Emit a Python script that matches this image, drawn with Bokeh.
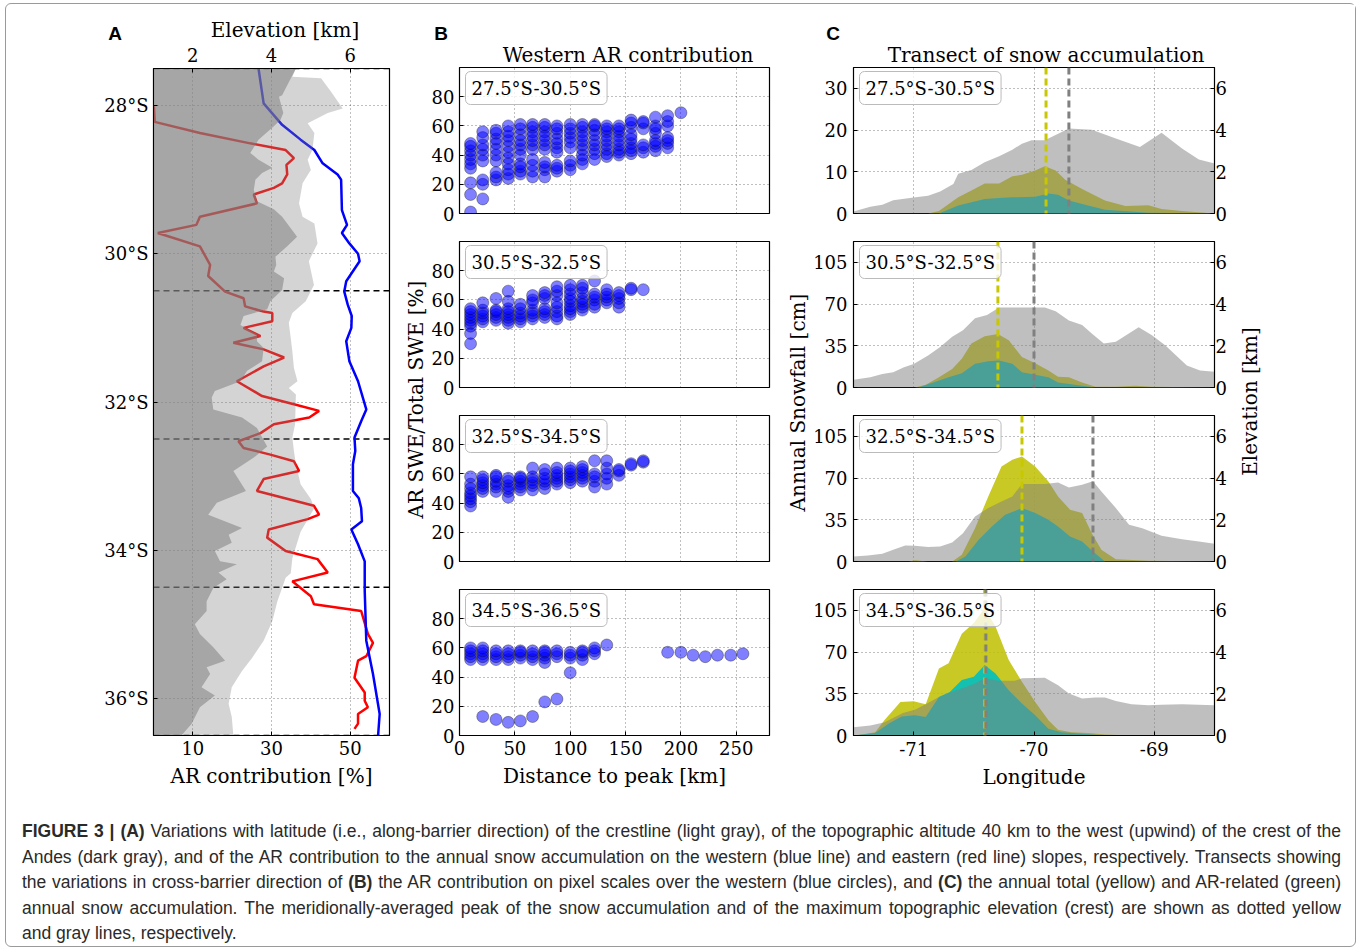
from math import pi
from bokeh.plotting import figure
from bokeh.layouts import row, column
from bokeh.models import Range1d, LinearAxis, FixedTicker, Label, Span, Div
from bokeh.embed import file_html
from bokeh.resources import INLINE

SERIF = "DejaVu Serif"
SANS = "Liberation Sans"

# ---------------- Panel A data ----------------
lat_ticks = [28, 30, 32, 34, 36]
ar_ticks = [10, 30, 50]
elev_ticks = [2, 4, 6]
band_edges = [27.5, 30.5, 32.5, 34.5, 36.5]

blue_lat = [27.50, 27.97, 28.26, 28.46, 28.60, 28.78, 28.93, 29.00, 29.41, 29.61,
            29.72, 29.86, 30.00, 30.10, 30.37, 30.51, 30.69, 30.84, 31.00, 31.18,
            31.45, 31.72, 32.10, 32.26, 32.48, 32.66, 32.84, 33.20, 33.30, 33.43,
            33.61, 33.72, 33.92, 34.15, 34.55, 35.22, 35.67, 36.21, 36.50]
blue_ar = [26.7, 28.0, 32.7, 37.4, 40.9, 43.0, 46.8, 47.7, 47.9, 49.2,
           47.9, 49.8, 52.0, 52.4, 49.0, 48.5, 49.4, 50.4, 50.3, 49.0,
           49.8, 52.0, 54.1, 52.8, 51.1, 51.3, 50.7, 50.7, 52.2, 52.8,
           53.0, 50.3, 52.0, 53.7, 53.7, 54.1, 55.8, 57.5, 57.1]

red_lat = [28.01, 28.22, 28.37, 28.51, 28.60, 28.71, 28.80, 28.93, 29.05, 29.11,
           29.20, 29.32, 29.50, 29.61, 29.72, 29.90, 30.15, 30.30, 30.51, 30.60,
           30.71, 30.78, 30.80, 30.91, 31.00, 31.11, 31.20, 31.29, 31.40, 31.52,
           31.72, 31.92, 32.03, 32.12, 32.21, 32.30, 32.42, 32.53, 32.62, 32.71,
           32.80, 32.93, 33.04, 33.20, 33.40, 33.52, 33.58, 33.72, 33.83, 34.01,
           34.12, 34.30, 34.42, 34.62, 34.73, 34.82, 35.13, 35.25, 35.43, 35.49,
           35.72, 35.92, 36.03, 36.12, 36.21, 36.34, 36.41]
red_ar = [0.1, 0.3, 11.8, 24.6, 33.6, 35.7, 33.8, 34.0, 32.7, 30.6,
          25.5, 26.3, 11.8, 10.9, 1.1, 11.8, 14.4, 13.9, 18.2, 22.9,
          23.3, 28.0, 30.2, 30.2, 22.9, 27.2, 20.3, 28.0, 33.2, 28.0,
          21.2, 27.6, 35.7, 42.1, 39.6, 30.6, 27.2, 21.6, 22.9, 29.7,
          35.7, 37.0, 28.0, 26.3, 40.8, 42.1, 39.2, 29.3, 28.9, 33.6,
          41.7, 44.3, 35.3, 40.0, 40.8, 52.8, 54.5, 55.8, 54.1, 52.0,
          51.1, 53.7, 53.7, 54.5, 52.0, 52.0, 51.1]

crest_lat = [27.50, 27.61, 27.63, 27.81, 28.04, 28.10, 28.24, 28.37, 28.60, 28.73,
             28.87, 29.05, 29.32, 29.50, 29.59, 29.86, 30.10, 30.42, 30.64, 30.80,
             30.93, 31.14, 31.32, 31.54, 31.72, 31.81, 31.90, 32.30, 32.48, 32.66,
             32.84, 33.11, 33.31, 33.43, 33.75, 34.11, 34.31, 34.37, 34.69, 34.96,
             35.22, 35.45, 35.63, 35.85, 36.07, 36.25, 36.50]
crest_km = [4.62, 4.53, 5.26, 5.51, 5.81, 5.43, 4.92, 5.09, 5.04, 4.92,
            5.00, 4.79, 4.70, 4.79, 5.09, 5.17, 4.95, 5.08, 4.87, 4.53,
            4.44, 4.49, 4.53, 4.57, 4.66, 4.44, 4.62, 4.60, 4.53, 4.57,
            4.62, 4.74, 5.00, 5.09, 4.74, 4.53, 4.49, 4.36, 4.15, 4.02,
            3.80, 3.51, 3.25, 2.99, 2.91, 2.99, 3.03]

west_lat = [27.50, 27.86, 27.88, 28.10, 28.19, 28.28, 28.46, 28.64, 28.73, 28.84,
            28.91, 29.00, 29.14, 29.29, 29.40, 29.50, 29.77, 29.90, 30.04, 30.15,
            30.24, 30.33, 30.49, 30.64, 30.75, 30.84, 30.96, 31.09, 31.18, 31.27,
            31.45, 31.58, 31.72, 31.85, 31.94, 32.10, 32.21, 32.35, 32.60, 32.75,
            32.93, 33.20, 33.36, 33.52, 33.70, 33.79, 33.90, 34.01, 34.15, 34.19,
            34.30, 34.39, 34.51, 34.69, 34.82, 35.00, 35.13, 35.31, 35.49, 35.58,
            35.67, 35.85, 35.96, 36.12, 36.34, 36.50]
west_km = [4.62, 4.27, 4.19, 4.30, 4.23, 4.06, 3.67, 3.46, 3.67, 4.02,
           3.76, 3.59, 3.55, 3.63, 4.06, 4.27, 4.65, 4.40, 4.10, 4.12,
           4.06, 4.32, 4.27, 3.97, 3.89, 3.29, 3.21, 3.63, 3.63, 3.80,
           3.76, 3.38, 3.21, 2.56, 2.48, 2.52, 3.25, 3.63, 3.89, 3.55,
           3.03, 3.35, 2.61, 2.39, 3.25, 2.91, 2.99, 2.56, 2.69, 3.12,
           2.65, 2.86, 2.52, 2.35, 2.35, 2.05, 2.18, 2.52, 2.82, 2.35,
           2.44, 2.22, 2.56, 2.18, 1.97, 1.71]

# ---------------- Panel B data ----------------
dist_km = [10, 21, 33, 44, 55, 66, 77, 88, 100, 111, 122, 133, 144, 155, 166, 177,
           188, 200, 211, 222, 233, 245, 256]
dist_ticks = [0, 50, 100, 150, 200, 250]
swe_ticks = [0, 20, 40, 60, 80]

b1_cols = [[1, 13, 21, 31, 34, 37, 40, 43, 46, 48],
           [10, 20, 23, 36, 40, 44, 47, 52, 56],
           [23, 25, 28, 36, 40, 44, 48, 51, 55, 57],
           [24, 27, 30, 34, 38, 42, 46, 50, 53, 56, 60],
           [27, 29, 32, 34, 40, 44, 47, 50, 54, 58, 61],
           [25, 29, 33, 37, 44, 47, 50, 53, 56, 59, 61],
           [25, 30, 32, 35, 44, 47, 50, 53, 56, 59, 61],
           [29, 31, 33, 42, 45, 48, 51, 55, 58, 60],
           [30, 33, 36, 45, 49, 52, 55, 58, 61],
           [34, 37, 40, 44, 47, 50, 53, 56, 59, 61],
           [37, 41, 44, 47, 50, 54, 57, 60, 61],
           [39, 41, 44, 47, 50, 53, 56, 58, 60],
           [40, 42, 44, 47, 50, 53, 56, 58, 60],
           [41, 43, 45, 48, 51, 54, 59, 62, 64],
           [42, 45, 47, 58, 62, 63],
           [43, 46, 48, 50, 55, 58, 60, 66],
           [45, 48, 50, 52, 60, 63, 67],
           [69]]
b2_cols = [[30, 37, 42, 44, 46, 48, 50, 52, 54],
           [45, 47, 49, 51, 53, 58],
           [46, 48, 50, 52, 53, 61],
           [44, 46, 48, 50, 52, 54, 59, 66],
           [45, 47, 49, 51, 54, 57],
           [47, 49, 51, 53, 58, 60, 63],
           [48, 50, 52, 54, 61, 63, 65],
           [47, 49, 52, 55, 58, 63, 66, 69],
           [50, 52, 54, 56, 59, 61, 64, 67, 70],
           [53, 55, 57, 59, 61, 65, 68, 70],
           [55, 57, 60, 62, 64, 73],
           [58, 60, 62, 64, 67],
           [55, 58, 61, 63, 65],
           [67, 68],
           [67]]
b3_cols = [[38, 41, 43, 45, 47, 50, 53, 58],
           [48, 50, 52, 54, 56, 58],
           [48, 51, 53, 55, 58, 59],
           [44, 48, 50, 52, 55, 57],
           [49, 51, 53, 55, 57, 58],
           [49, 52, 54, 56, 58, 64],
           [50, 53, 55, 57, 60, 63],
           [53, 55, 57, 59, 61, 64],
           [54, 56, 58, 60, 62, 64],
           [55, 57, 59, 61, 63, 65],
           [51, 55, 58, 60, 69],
           [53, 57, 60, 64, 69],
           [59, 62, 63],
           [66, 67],
           [68, 69]]
b4_cols = [[52, 54, 56, 58, 60],
           [13, 52, 54, 56, 58, 60],
           [11, 52, 54, 56, 58],
           [9, 52, 54, 56, 58],
           [10, 53, 55, 57, 58],
           [13, 52, 54, 56, 58],
           [23, 50, 53, 55, 57, 58],
           [25, 54, 56, 58],
           [43, 53, 55, 57],
           [52, 55, 57, 58],
           [56, 58, 60],
           [62],
           [], [], [], [],
           [57], [57], [55], [54], [55], [55], [56]]

# ---------------- Panel C data ----------------
lon_ticks = [-71, -70, -69]
snow_ticks_c1 = [0, 10, 20, 30]
snow_ticks = [0, 35, 70, 105]
elev_ticks_c = [0, 2, 4, 6]

c1_elev_lon = [-71.5, -71.36, -71.26, -71.17, -71.00, -70.88, -70.78, -70.67, -70.63, -70.52,
               -70.41, -70.29, -70.18, -70.10, -70.02, -69.91, -69.71, -69.52, -69.32, -69.12,
               -68.94, -68.77, -68.63, -68.5]
c1_elev = [0.10, 0.32, 0.42, 0.64, 0.77, 0.85, 1.06, 1.42, 1.90, 2.09,
           2.46, 2.74, 3.06, 3.35, 3.51, 3.51, 4.07, 4.02, 3.59, 3.19,
           3.87, 3.12, 2.59, 2.40]
c1_tot_lon = [-71.5, -70.88, -70.79, -70.63, -70.52, -70.41, -70.29, -70.18, -70.10, -69.99,
              -69.91, -69.82, -69.74, -69.60, -69.41, -69.24, -69.05, -68.94, -68.77, -68.5]
c1_tot = [0, 0, 0.6, 3.9, 5.5, 7.2, 7.2, 8.9, 9.3, 10.3,
          11.3, 10.3, 8.1, 5.9, 3.1, 1.8, 2.0, 1.1, 0.6, 0]
c1_ar_lon = [-71.5, -70.79, -70.63, -70.52, -70.41, -70.29, -70.18, -69.99, -69.88, -69.80,
             -69.71, -69.55, -69.41, -69.19, -69.05, -68.5]
c1_ar = [0, 0, 1.9, 2.7, 3.5, 3.7, 3.9, 4.0, 4.8, 4.5,
         3.1, 1.9, 0.9, 0.5, 0.2, 0]

c2_elev_lon = [-71.5, -71.36, -71.26, -71.17, -71.08, -71.00, -70.88, -70.78, -70.68, -70.59,
               -70.49, -70.39, -70.29, -69.91, -69.82, -69.71, -69.60, -69.52, -69.42, -69.32,
               -69.13, -69.02, -68.91, -68.73, -68.62, -68.5]
c2_elev = [0.37, 0.49, 0.65, 0.73, 0.97, 1.13, 1.54, 1.94, 2.43, 2.75,
           3.32, 3.48, 3.84, 3.84, 3.65, 3.21, 3.00, 2.59, 2.11, 2.19,
           2.89, 2.51, 2.03, 1.05, 0.81, 0.76]
c2_tot_lon = [-71.5, -70.99, -70.90, -70.79, -70.68, -70.60, -70.52, -70.41, -70.30, -70.21,
              -70.10, -69.99, -69.88, -69.80, -69.71, -69.60, -69.49, -69.32, -69.16, -69.02, -68.5]
c2_tot = [0, 0, 2.3, 8.5, 15.6, 24.1, 36.9, 43.1, 44.8, 39.7,
          25.5, 20.4, 14.2, 9.1, 8.5, 4.3, 0.6, 0.6, 1.4, 0.6, 0]
c2_ar_lon = [-71.5, -70.96, -70.88, -70.71, -70.60, -70.49, -70.38, -70.29, -70.18, -70.10,
             -69.99, -69.88, -69.80, -69.66, -69.49, -68.5]
c2_ar = [0, 0, 2.8, 8.5, 11.9, 19.9, 22.1, 22.7, 19.9, 12.8,
         10.8, 8.5, 4.3, 2.3, 0, 0]

c3_elev_lon = [-71.5, -71.38, -71.26, -71.17, -71.07, -70.99, -70.88, -70.78, -70.68, -70.59,
               -70.49, -70.38, -70.27, -70.18, -70.10, -69.91, -69.80, -69.71, -69.60, -69.51,
               -69.44, -69.32, -69.21, -69.10, -68.94, -68.77, -68.63, -68.5]
c3_elev = [0.24, 0.29, 0.37, 0.56, 0.77, 0.75, 0.69, 0.72, 0.91, 1.36,
           2.16, 2.56, 2.88, 3.12, 3.72, 3.72, 3.79, 3.55, 3.68, 3.85,
           3.36, 2.56, 1.76, 1.60, 1.23, 1.07, 0.96, 0.85]
c3_tot_lon = [-71.5, -71.04, -70.99, -70.88, -70.68, -70.60, -70.49, -70.38, -70.27, -70.18,
              -70.10, -69.99, -69.88, -69.80, -69.70, -69.60, -69.52, -69.44, -69.32, -69.05, -68.5]
c3_tot = [0, 0, 1.1, 0, 0, 5.6, 28.0, 54.5, 79.7, 85.3,
          88.1, 79.7, 67.1, 54.5, 43.4, 40.6, 23.8, 9.8, 1.9, 0.6, 0]
c3_ar_lon = [-71.5, -70.65, -70.57, -70.46, -70.35, -70.24, -70.10, -69.99, -69.88, -69.80,
             -69.70, -69.60, -69.51, -69.41, -68.5]
c3_ar = [0, 0, 4.2, 18.2, 29.4, 39.2, 44.8, 40.6, 35.0, 29.4,
         21.0, 16.8, 8.4, 0, 0]

c4_elev_lon = [-71.5, -71.36, -71.24, -71.09, -70.99, -70.90, -70.79, -70.71, -70.60, -70.49,
               -70.41, -70.30, -70.16, -70.10, -69.91, -69.80, -69.71, -69.60, -69.49, -69.41,
               -69.32, -69.19, -69.05, -68.94, -68.77, -68.5]
c4_elev = [0.40, 0.48, 0.64, 1.08, 1.24, 1.50, 1.85, 2.04, 2.25, 2.49,
           2.74, 2.62, 2.62, 2.74, 2.77, 2.41, 2.01, 1.77, 1.82, 1.82,
           1.66, 1.50, 1.45, 1.48, 1.50, 1.45]
c4_tot_lon = [-71.5, -71.43, -71.32, -71.24, -71.11, -71.00, -70.90, -70.79, -70.71, -70.60,
              -70.50, -70.41, -70.32, -70.21, -70.10, -69.99, -69.88, -69.80, -69.69, -69.55,
              -69.41, -69.19, -68.5]
c4_tot = [0, 0.8, 2.8, 13.2, 28.2, 28.7, 26.2, 56.3, 60.6, 85.3,
          94.3, 107.0, 91.5, 63.4, 45.0, 28.2, 12.7, 4.8, 2.8, 2.0,
          0.8, 0, 0]
c4_ar_lon = [-71.5, -71.32, -71.21, -71.10, -70.99, -70.90, -70.79, -70.70, -70.60, -70.50,
             -70.41, -70.32, -70.21, -70.10, -69.99, -69.88, -69.77, -69.60, -69.41, -68.5]
c4_ar = [0, 2.0, 9.9, 16.0, 16.9, 15.5, 32.4, 36.6, 46.5, 49.3,
         59.1, 52.1, 38.0, 26.8, 16.9, 5.6, 2.8, 1.4, 0, 0]

snow_peak_lon = [-69.90, -70.30, -70.10, -70.41]
crest_peak_lon = [-69.71, -70.00, -69.51, -70.40]
snow_max = [35, 122.5, 122.5, 122.5]

# ---------------- helpers ----------------
def style_axis(ax, standoff=5):
    ax.major_label_text_font = SERIF
    ax.major_label_text_font_size = "18px"
    ax.major_label_text_color = "black"
    ax.major_label_standoff = standoff
    ax.axis_label_text_font = SERIF
    ax.axis_label_text_font_size = "20px"
    ax.axis_label_text_font_style = "normal"
    ax.axis_label_text_color = "black"
    ax.axis_label_standoff = 6
    ax.major_tick_in = 4
    ax.major_tick_out = 0
    ax.major_tick_line_color = "black"
    ax.minor_tick_line_color = None
    ax.axis_line_color = "black"


def style_grid(p):
    for g in p.grid:
        g.grid_line_color = "black"
        g.grid_line_alpha = 0.5
        g.grid_line_dash = "1 3"
        g.grid_line_width = 1


def make_fig(xr, yr, fw, fh, mbl, mbr, mbt, mbb):
    p = figure(x_range=xr, y_range=yr, frame_width=fw, frame_height=fh,
               min_border_left=mbl, min_border_right=mbr,
               min_border_top=mbt, min_border_bottom=mbb,
               output_backend="svg", toolbar_location=None)
    p.outline_line_color = "black"
    p.outline_line_width = 1.2
    p.background_fill_color = "white"
    p.border_fill_color = "white"
    return p


def band_label(p, xr, yr, fw, fh, text):
    x = xr.start + 6 / fw * (xr.end - xr.start)
    y = yr.end - 4 / fh * (yr.end - yr.start)
    p.add_layout(Label(x=x, y=y, text=text, text_font=SERIF, text_font_size="18px",
                       text_color="black", text_align="left", text_baseline="top",
                       background_fill_color="white", background_fill_alpha=0.8,
                       border_line_color="#bbbbbb", border_line_width=1,
                       border_radius=5, padding=6))


# page-y geometry of the plot row (content origin at y=4)
ROW_TOP, FRAME_TOP, FRAME_BOT, ROW_BOT = 4, 68, 735, 806


def strip(w, text, x, y):
    """narrow blank canvas whose frame spans the same rows as panel A; y in page px"""
    p = figure(width=w, frame_height=FRAME_BOT - FRAME_TOP,
               x_range=Range1d(0, w), y_range=Range1d(FRAME_BOT, FRAME_TOP),
               min_border_left=0, min_border_right=0,
               min_border_top=FRAME_TOP - ROW_TOP, min_border_bottom=ROW_BOT - FRAME_BOT,
               x_axis_location=None, y_axis_location=None,
               output_backend="svg", toolbar_location=None)
    p.outline_line_color = None
    p.xgrid.visible = False
    p.ygrid.visible = False
    p.add_layout(Label(x=x, y=y, text=text, angle=pi / 2, text_font=SERIF,
                       text_font_size="20px", text_color="black",
                       text_align="center", text_baseline="middle"))
    return p


def header(w, h, items):
    spans = "".join(
        f"<span style=\"position:absolute;left:{x}px;top:{y}px;transform:translate(-50%,-50%);"
        f"white-space:nowrap;line-height:normal;font-family:'{font}';font-size:{size};"
        f"font-weight:{weight};color:#000;\">{text}</span>"
        for (x, y, text, font, size, weight) in items)
    html = f"<div style=\"position:relative;width:{w}px;height:{h}px;\">{spans}</div>"
    return Div(text=html, width=w, height=h, margin=0)


def band_text(i):
    return f"{band_edges[i]}°S-{band_edges[i + 1]}°S"

# ---------------- Panel A ----------------
HEAD_A, HEAD_BC = 36, 60
FWA, FHA = 236, 667
headA = header(394, HEAD_A, [(109, 30, "A", SANS, "19px", "bold"),
                             (279, 26, "Elevation [km]", SERIF, "20px", "normal")])
xrA = Range1d(0, 60)
yrA = Range1d(36.5, 27.5)
pA = make_fig(xrA, yrA, FWA, FHA, 147, 11, 28, 71)
pA.extra_x_ranges = {"elev": Range1d(1, 7)}
pA.xaxis.ticker = FixedTicker(ticks=ar_ticks)
pA.xaxis.axis_label = "AR contribution [%]"
pA.yaxis.ticker = FixedTicker(ticks=lat_ticks)
pA.yaxis.major_label_overrides = {t: f"{t}°S" for t in lat_ticks}
top_ax = LinearAxis(x_range_name="elev", ticker=FixedTicker(ticks=elev_ticks))
pA.add_layout(top_ax, "above")
for ax in pA.axis:
    style_axis(ax, standoff=5)
top_ax.major_label_standoff = 7
style_grid(pA)
for lat in band_edges:
    pA.add_layout(Span(location=lat, dimension="width", line_color="black",
                       line_width=1.5, line_dash="6 4", level="underlay"))
pA.line(red_ar, red_lat, line_color="red", line_width=2.5)
pA.line(blue_ar, blue_lat, line_color="blue", line_width=2.5)
pA.harea(x1=[0] * len(crest_km), x2=crest_km, y=crest_lat, x_range_name="elev",
         fill_color="#808080", fill_alpha=0.34)
pA.harea(x1=[0] * len(west_km), x2=west_km, y=west_lat, x_range_name="elev",
         fill_color="#808080", fill_alpha=0.55)
colA = column(headA, pA)

# ---------------- Panel B ----------------
FWB, FHB = 310, 146
borders = [(3, 14), (14, 14), (14, 14), (14, 71)]
b_data = [b1_cols, b2_cols, b3_cols, b4_cols]
headB = header(352, HEAD_BC, [(13, 30, "B", SANS, "19px", "bold"),
                              (200, 51, "Western AR contribution", SERIF, "20px", "normal")])
b_figs = [headB]
for i in range(4):
    xr = Range1d(0, 280)
    yr = Range1d(0, 100)
    mbt, mbb = borders[i]
    p = make_fig(xr, yr, FWB, FHB, 31, 11, mbt, mbb)
    p.xaxis.ticker = FixedTicker(ticks=dist_ticks)
    p.xgrid.ticker = FixedTicker(ticks=dist_ticks)
    p.yaxis.ticker = FixedTicker(ticks=swe_ticks)
    for ax in p.axis:
        style_axis(ax, standoff=5)
    if i == 3:
        p.xaxis.axis_label = "Distance to peak [km]"
    else:
        p.xaxis.visible = False
    style_grid(p)
    xs, ys = [], []
    for d, vals in zip(dist_km, b_data[i]):
        xs += [d] * len(vals)
        ys += vals
    p.scatter(xs, ys, size=12, fill_color="blue", fill_alpha=0.5,
              line_color="black", line_alpha=0.4, line_width=0.8)
    band_label(p, xr, yr, FWB, FHB, band_text(i))
    b_figs.append(p)

# ---------------- Panel C ----------------
FWC, FHC = 361, 146
c_elev = [(c1_elev_lon, c1_elev), (c2_elev_lon, c2_elev), (c3_elev_lon, c3_elev), (c4_elev_lon, c4_elev)]
c_tot = [(c1_tot_lon, c1_tot), (c2_tot_lon, c2_tot), (c3_tot_lon, c3_tot), (c4_tot_lon, c4_tot)]
c_ar = [(c1_ar_lon, c1_ar), (c2_ar_lon, c2_ar), (c3_ar_lon, c3_ar), (c4_ar_lon, c4_ar)]
headC = header(423, HEAD_BC, [(23, 30, "C", SANS, "19px", "bold"),
                              (236, 51, "Transect of snow accumulation", SERIF, "20px", "normal")])
c_figs = [headC]
for i in range(4):
    xr = Range1d(-71.5, -68.5)
    yr = Range1d(0, snow_max[i])
    mbt, mbb = borders[i]
    p = make_fig(xr, yr, FWC, FHC, 42, 20, mbt, mbb)
    p.extra_y_ranges = {"elev": Range1d(0, 7)}
    p.xaxis.ticker = FixedTicker(ticks=lon_ticks)
    p.xaxis.major_label_overrides = {t: f"{t}" for t in lon_ticks}
    p.xgrid.ticker = FixedTicker(ticks=lon_ticks)
    p.yaxis.ticker = FixedTicker(ticks=snow_ticks_c1 if i == 0 else snow_ticks)
    rax = LinearAxis(y_range_name="elev", ticker=FixedTicker(ticks=elev_ticks_c))
    p.add_layout(rax, "right")
    for ax in p.axis:
        style_axis(ax, standoff=6)
    rax.major_label_standoff = 1
    if i == 3:
        p.xaxis[0].axis_label = "Longitude"
    else:
        p.xaxis[0].visible = False
    style_grid(p)
    lon, v = c_tot[i]
    p.varea(x=lon, y1=[0] * len(v), y2=v, fill_color="#bfbf00", fill_alpha=0.85)
    lon, v = c_ar[i]
    p.varea(x=lon, y1=[0] * len(v), y2=v, fill_color="#00bfbf", fill_alpha=0.9)
    lon, v = c_elev[i]
    p.varea(x=lon, y1=[0] * len(v), y2=v, y_range_name="elev",
            fill_color="#808080", fill_alpha=0.5)
    p.add_layout(Span(location=snow_peak_lon[i], dimension="height",
                      line_color="#c8c800", line_width=3, line_dash="7 4"))
    p.add_layout(Span(location=crest_peak_lon[i], dimension="height",
                      line_color="#808080", line_width=3, line_dash="7 4"))
    band_label(p, xr, yr, FWC, FHC, band_text(i))
    c_figs.append(p)

# ---------------- shared rotated labels ----------------
labB = strip(28, "AR SWE/Total SWE [%]", 15, 399)
labC = strip(30, "Annual Snowfall [cm]", 17, 402)
labE = strip(121, "Elevation [km]", 15, 401)

# ---------------- caption ----------------
just = "text-align:justify;text-align-last:justify;"
cap_lines = [
    "<b>FIGURE 3 | (A)</b> Variations with latitude (i.e., along-barrier direction) of the crestline (light gray), of the topographic altitude 40 km to the west (upwind) of the crest of the",
    "Andes (dark gray), and of the AR contribution to the annual snow accumulation on the western (blue line) and eastern (red line) slopes, respectively. Transects showing",
    "the variations in cross-barrier direction of <b>(B)</b> the AR contribution on pixel scales over the western (blue circles), and <b>(C)</b> the annual total (yellow) and AR-related (green)",
    "annual snow accumulation. The meridionally-averaged peak of the snow accumulation and of the maximum topographic elevation (crest) are shown as dotted yellow",
]
cap_html = ("<div style=\"font-family:'Liberation Sans',Arial,sans-serif;font-size:17.5px;"
            "line-height:25.5px;color:#2a2a2a;width:1319px;margin:0 0 0 16px;padding-top:13px;\">"
            + "".join(f"<div style=\"{just}width:1319px;\">{t}</div>" for t in cap_lines)
            + "<div>and gray lines, respectively.</div></div>")
caption = Div(text=cap_html, width=1348, height=140, margin=0)

top = row(colA, labB, column(*b_figs), labC, column(*c_figs), labE)
root = column(top, caption, styles={"border": "1px solid #9a9a9a", "border-radius": "6px",
                                     "margin-left": "5px", "margin-top": "3px"})

open("out.html", "w").write(file_html(root, INLINE, title="Figure 3"))
